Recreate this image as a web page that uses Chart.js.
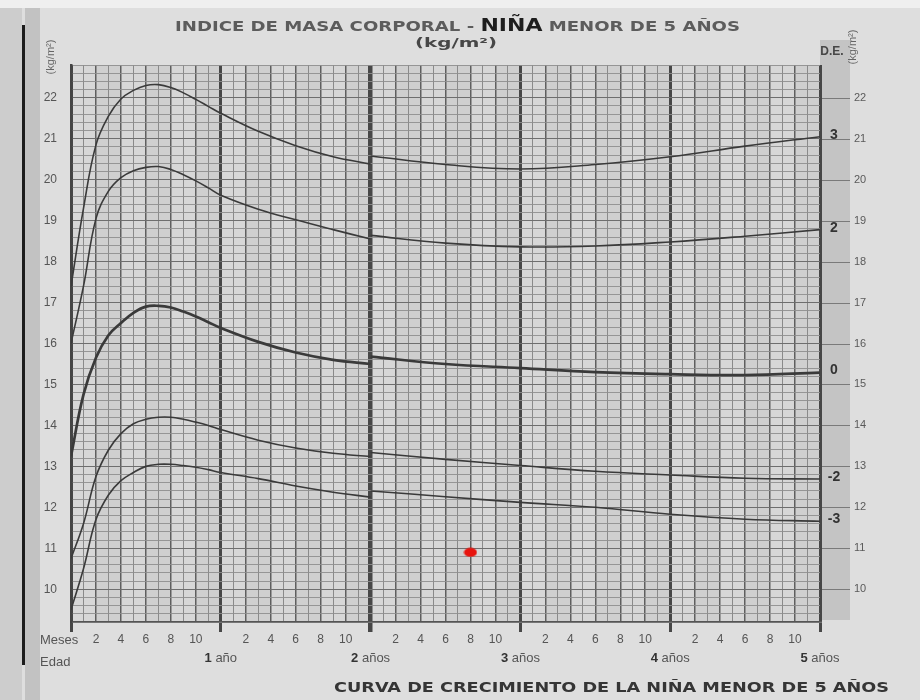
<!DOCTYPE html>
<html><head><meta charset="utf-8">
<script src="https://cdn.jsdelivr.net/npm/chart.js@4/dist/chart.umd.min.js"></script>
<style>html,body{margin:0;padding:0;background:#dedede}#wrap{width:920px;height:700px;position:relative}</style>
</head><body><div id="wrap"><canvas id="c" width="920" height="700"></canvas></div>
<script>
// ---- data ----
const monthsA = [0,1,2,3,4,5,6,7,8,9,10,11,12,15,18,21,24];
const monthsB = [24,30,36,42,48,54,60];
const sdP3A = [17.4,19.3,20.85,21.55,21.97,22.18,22.3,22.32,22.25,22.12,21.96,21.79,21.62,21.18,20.83,20.56,20.38];
const sdP2A = [16.0,17.4,19.05,19.72,20.05,20.22,20.3,20.32,20.25,20.12,19.97,19.8,19.62,19.28,19.02,18.78,18.55];
const sd0A  = [13.25,14.75,15.65,16.2,16.5,16.75,16.9,16.92,16.88,16.78,16.66,16.52,16.38,16.04,15.78,15.6,15.5];
const sdM2A = [10.75,11.6,12.75,13.4,13.8,14.04,14.15,14.2,14.2,14.15,14.08,14.0,13.9,13.64,13.45,13.32,13.24];
const sdM3A = [9.5,10.5,11.7,12.3,12.65,12.85,13.0,13.05,13.05,13.02,12.98,12.92,12.85,12.7,12.52,12.37,12.25];
const sdP3B = [20.58,20.37,20.26,20.37,20.56,20.82,21.05];
const sdP2B = [18.64,18.45,18.36,18.38,18.48,18.62,18.78];
const sd0B  = [15.68,15.5,15.4,15.3,15.25,15.23,15.29];
const sdM2B = [13.34,13.17,13.02,12.88,12.79,12.71,12.69];
const sdM3B = [12.4,12.26,12.12,12.0,11.83,11.71,11.66];
const sdLabels = ['3','2','0','-2','-3'];
const yearNumbers = ['1','2','3','4','5'];
const yearWords = ['año','años','años','años','años'];
const childMonths = [32];
const childBMI = [10.9];
const titleLeft = 'INDICE DE MASA CORPORAL - ';
const titleMid = 'NIÑA';
const titleRight = ' MENOR DE 5 AÑOS';
const subTitle = '(kg/m²)';
const bottomTitle = 'CURVA DE CRECIMIENTO DE LA NIÑA MENOR DE 5 AÑOS';
const unitLabel = '(kg/m²)';

const FONT = '"Liberation Sans", Arial, sans-serif';
const TFONT = '"DejaVu Sans", sans-serif';
const isInt = v => Math.abs(v - Math.round(v)) < 1e-6;
const pts = (xs, ys) => xs.map((x, i) => ({x: x, y: ys[i]}));

const dot = document.createElement('canvas');
dot.width = 14; dot.height = 10;
(function(){const g = dot.getContext('2d'); g.fillStyle = '#e8140e'; g.beginPath(); g.ellipse(7,5,6.5,4.5,0,0,Math.PI*2); g.fill();})();

const curveColor = '#3a3a3a';
function curve(xs, ys, w){
  return {type:'line', data: pts(xs, ys), borderColor: curveColor, borderWidth: w, pointRadius: 0,
    tension: 0.4, fill: false, order: 2};
}
const seriesA = [sdP3A, sdP2A, sd0A, sdM2A, sdM3A];
const seriesB = [sdP3B, sdP2B, sd0B, sdM2B, sdM3B];
const datasets = [];
seriesA.forEach((s, i) => datasets.push(curve(monthsA, s, i === 2 ? 2.7 : 1.6)));
seriesB.forEach((s, i) => datasets.push(curve(monthsB, s, i === 2 ? 2.7 : 1.6)));
datasets.push({type:'scatter', data: pts(childMonths, childBMI), pointStyle: dot, pointRadius: 6, order: 0});

function fitText(ctx, segs, x0, x1, y){
  let total = 0;
  segs.forEach(s => { ctx.font = s.font; s.w = ctx.measureText(s.text).width; total += s.w; });
  const k = (x1 - x0) / total;
  ctx.save(); ctx.translate(x0, y); ctx.scale(k, 1);
  let x = 0; ctx.textAlign = 'left'; ctx.textBaseline = 'alphabetic';
  segs.forEach(s => { ctx.font = s.font; ctx.fillStyle = s.color; ctx.fillText(s.text, x, 0); x += s.w; });
  ctx.restore();
}

const paper = {
  id: 'paper',
  beforeDraw(chart){
    const ctx = chart.ctx, a = chart.chartArea, xs = chart.scales.x, ys = chart.scales.y;
    ctx.save();
    ctx.fillStyle = '#dedede'; ctx.fillRect(0,0,920,700);
    ctx.fillStyle = '#efefef'; ctx.fillRect(0,0,920,8);
    ctx.fillStyle = '#cdcdcd'; ctx.fillRect(0,8,22,692);
    ctx.fillStyle = '#c2c2c2'; ctx.fillRect(25,8,15,692);
    ctx.fillStyle = '#1c1c1c'; ctx.fillRect(22,25,3,640);
    ctx.fillStyle = '#d7d7d7'; ctx.fillRect(a.left, a.top, a.right - a.left, a.bottom - a.top);
    ctx.fillStyle = 'rgba(0,0,0,0.035)';
    for (let m = 2; m < 60; m += 4){
      const p0 = xs.getPixelForValue(m), p1 = xs.getPixelForValue(m + 2);
      ctx.fillRect(p0, a.top, p1 - p0, a.bottom - a.top);
    }
    // right band
    ctx.fillStyle = '#c4c4c4'; ctx.fillRect(a.right, 40, 30, 580);
    ctx.strokeStyle = '#7a7a7a'; ctx.lineWidth = 1;
    for (let v = 10; v <= 22; v++){
      const y = Math.round(ys.getPixelForValue(v)) + 0.5;
      ctx.beginPath(); ctx.moveTo(a.right, y); ctx.lineTo(a.right + 30, y); ctx.stroke();
    }
    ctx.restore();
  },
  afterDraw(chart){
    const ctx = chart.ctx, a = chart.chartArea, xs = chart.scales.x, ys = chart.scales.y;
    ctx.save();
    fitText(ctx, [
      {text: titleLeft, font: 'bold 14px ' + TFONT, color: '#5c5c5c'},
      {text: titleMid, font: 'bold 17px ' + TFONT, color: '#1e1e1e'},
      {text: titleRight, font: 'bold 14px ' + TFONT, color: '#5c5c5c'}
    ], 175, 740, 31);
    fitText(ctx, [{text: subTitle, font: 'bold 13px ' + TFONT, color: '#474747'}], 415, 497, 47);
    fitText(ctx, [{text: bottomTitle, font: 'bold 14px ' + TFONT, color: '#353535'}], 334, 889, 692);
    [[51, 57], [853, 47]].forEach(p => {
      ctx.save(); ctx.translate(p[0], p[1]); ctx.rotate(-Math.PI/2);
      ctx.font = '11px ' + FONT; ctx.fillStyle = '#666'; ctx.textAlign = 'center'; ctx.textBaseline = 'middle';
      ctx.fillText(unitLabel, 0, 0); ctx.restore();
    });
    ctx.font = 'bold 12px ' + FONT; ctx.fillStyle = '#474747'; ctx.textAlign = 'center'; ctx.textBaseline = 'alphabetic';
    ctx.fillText('D.E.', a.right + 12, 55);
    ctx.font = 'bold 14px ' + FONT; ctx.fillStyle = '#333'; ctx.textBaseline = 'middle';
    seriesB.forEach((s, i) => {
      const y = ys.getPixelForValue(s[s.length - 1]) - 2;
      ctx.fillText(sdLabels[i], a.right + 14, y);
    });
    ctx.font = '13px ' + FONT; ctx.fillStyle = '#555'; ctx.textAlign = 'left'; ctx.textBaseline = 'alphabetic';
    ctx.fillText('Meses', 40, 644);
    ctx.fillText('Edad', 40, 666);
    yearNumbers.forEach((n, i) => {
      const x = xs.getPixelForValue(12 * (i + 1));
      ctx.font = 'bold 13px ' + FONT; const w1 = ctx.measureText(n + ' ').width;
      ctx.font = '13px ' + FONT; const w2 = ctx.measureText(yearWords[i]).width;
      let x0 = x - (w1 + w2) / 2;
      ctx.font = 'bold 13px ' + FONT; ctx.fillStyle = '#333'; ctx.fillText(n, x0, 662);
      ctx.font = '13px ' + FONT; ctx.fillStyle = '#555'; ctx.fillText(yearWords[i], x0 + w1, 662);
    });
    ctx.restore();
  }
};

const xGridColor = c => { const v = Math.round(c.tick.value); return v % 12 === 0 ? '#474747' : (v % 2 === 0 ? '#5f5f5f' : '#8a8a8a'); };
const xGridWidth = c => { const v = Math.round(c.tick.value); return v === 24 ? 4.5 : (v % 12 === 0 ? 3 : (v % 2 === 0 ? 1.5 : 1)); };
const yTick = v => isInt(v) ? String(Math.round(v)) : '';

new Chart(document.getElementById('c'), {
  data: {datasets: datasets},
  plugins: [paper],
  options: {
    responsive: false, animation: false,
    layout: {padding: {top: 65, left: 0, right: 0, bottom: 0}},
    plugins: {legend: {display: false}, tooltip: {enabled: false}, title: {display: false}},
    scales: {
      x: {type: 'linear', min: 0, max: 60,
        afterFit(s){ s.height = 78; },
        ticks: {stepSize: 1, autoSkip: false, maxRotation: 0, padding: 0, maxTicksLimit: 1000,
          color: '#555', font: {family: FONT, size: 12},
          callback: v => { const m = Math.round(v) % 12; return (m !== 0 && m % 2 === 0) ? String(m) : ''; }},
        grid: {color: xGridColor, lineWidth: xGridWidth, drawTicks: true, tickLength: 10,
          tickColor: c => Math.round(c.tick.value) % 12 === 0 ? '#474747' : 'rgba(0,0,0,0)',
          tickWidth: c => Math.round(c.tick.value) === 24 ? 4.5 : 3},
        border: {display: true, color: '#555', width: 1.5}
      },
      y: {type: 'linear', position: 'left', min: 9.2, max: 22.8,
        afterFit(s){ s.width = 71; },
        ticks: {stepSize: 0.2, autoSkip: false, maxTicksLimit: 1000, padding: 14,
          color: '#555', font: {family: FONT, size: 12}, callback: yTick},
        grid: {color: c => isInt(c.tick.value) ? '#6e6e6e' : '#8f8f8f',
          lineWidth: c => isInt(c.tick.value) ? 1.1 : 0.9, drawTicks: false},
        border: {display: true, color: '#444', width: 2.5}
      },
      y2: {type: 'linear', position: 'right', min: 9.2, max: 22.8,
        afterFit(s){ s.width = 100; },
        ticks: {stepSize: 0.2, autoSkip: false, maxTicksLimit: 1000, padding: 34,
          color: '#5a5a5a', font: {family: FONT, size: 11}, callback: yTick},
        grid: {display: false, drawTicks: false},
        border: {display: false}
      }
    }
  }
});
</script>
</body></html>
